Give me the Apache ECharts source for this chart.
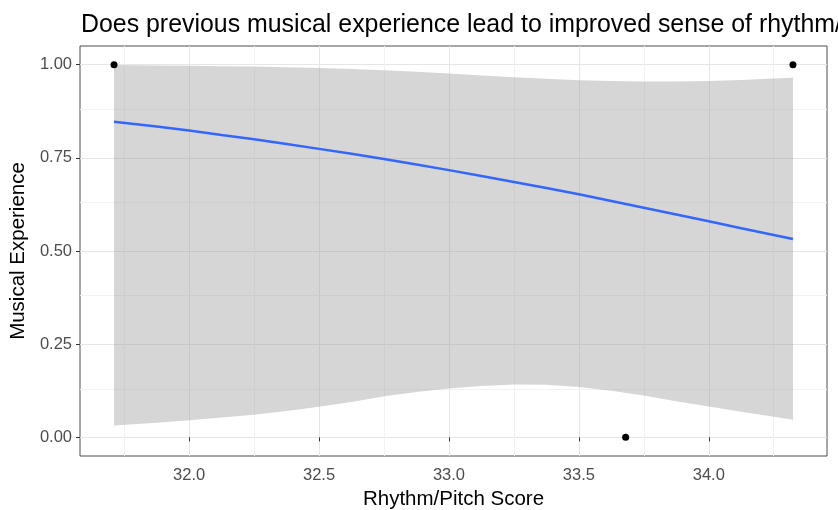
<!DOCTYPE html>
<html>
<head>
<meta charset="utf-8">
<script src="https://cdn.jsdelivr.net/npm/echarts@6/dist/echarts.min.js"></script>
<style>html,body{margin:0;padding:0;background:#fff}#c{width:838px;height:510px}</style>
</head>
<body>
<div id="c"></div>
<script>
// ---- data ----
const titleText = "Does previous musical experience lead to improved sense of rhythm/pitch?";
const xName = "Rhythm/Pitch Score";
const yName = "Musical Experience";
const pointsX = [31.711, 33.68, 34.324];
const pointsY = [1, 0, 1];
const fitX = [31.711, 31.875, 32.0, 32.125, 32.25, 32.375, 32.5, 32.625, 32.75, 32.875, 33.0,
              33.125, 33.25, 33.375, 33.5, 33.625, 33.75, 33.875, 34.0, 34.125, 34.25, 34.324];
const fitY = [0.847, 0.834, 0.823, 0.811, 0.800, 0.787, 0.774, 0.761, 0.747, 0.732, 0.717,
              0.701, 0.685, 0.669, 0.652, 0.634, 0.616, 0.598, 0.580, 0.561, 0.543, 0.532];
const ciLower = [0.032, 0.039, 0.046, 0.053, 0.061, 0.071, 0.082, 0.095, 0.110, 0.122, 0.131,
                 0.138, 0.142, 0.141, 0.135, 0.125, 0.112, 0.097, 0.083, 0.069, 0.055, 0.047];
const ciUpper = [0.999, 0.998, 0.997, 0.996, 0.995, 0.993, 0.991, 0.988, 0.985, 0.981, 0.976,
                 0.971, 0.966, 0.962, 0.958, 0.956, 0.955, 0.955, 0.956, 0.959, 0.963, 0.965];
const xTicks = [32.0, 32.5, 33.0, 33.5, 34.0];
const yTicks = [0, 0.25, 0.5, 0.75, 1.0];
const xMinor = [31.75, 32.25, 32.75, 33.25, 33.75, 34.25];
const yMinor = [0.125, 0.375, 0.625, 0.875];

const FONT = "Liberation Sans";
const chart = echarts.init(document.getElementById('c'), null, {renderer: 'canvas'});

const minorLines = xMinor.map(v => ({xAxis: v})).concat(yMinor.map(v => ({yAxis: v})));

chart.setOption({
  animation: false,
  backgroundColor: '#ffffff',
  title: {
    text: titleText, left: 76, top: 8,
    textStyle: {fontFamily: FONT, fontSize: 24.9, fontWeight: 'normal', color: '#000'}
  },
  grid: {
    left: 80, right: 11, top: 46, bottom: 54,
    outerBoundsMode: 'none', containLabel: false,
    show: true, backgroundColor: '#fff', borderColor: '#4d4d4d', borderWidth: 1
  },
  xAxis: {
    type: 'value', min: 31.580, max: 34.455,
    name: xName, nameLocation: 'middle', nameGap: 31,
    nameTextStyle: {fontFamily: FONT, fontSize: 20.5, color: '#000'},
    axisLine: {show: false},
    axisTick: {show: true, customValues: xTicks, length: 4, lineStyle: {color: '#333333'}},
    axisLabel: {customValues: xTicks, margin: 11, fontFamily: FONT, fontSize: 16.5, color: '#4d4d4d',
      formatter: v => v.toFixed(1)},
    splitLine: {show: true, lineStyle: {color: '#e6e6e6', width: 1}}
  },
  yAxis: {
    type: 'value', min: -0.05, max: 1.05,
    name: yName, nameLocation: 'middle', nameGap: 44,
    nameTextStyle: {fontFamily: FONT, fontSize: 20.5, color: '#000'},
    axisLine: {show: false},
    axisTick: {show: true, customValues: yTicks, length: 4, lineStyle: {color: '#333333'}},
    axisLabel: {customValues: yTicks, margin: 8, fontFamily: FONT, fontSize: 16.5, color: '#4d4d4d',
      formatter: v => v.toFixed(2)},
    splitLine: {show: true, lineStyle: {color: '#e6e6e6', width: 1}}
  },
  series: [
    {
      type: 'scatter', data: [], z: 1, silent: true,
      markLine: {
        z: 1, silent: true, symbol: 'none', label: {show: false}, animation: false,
        lineStyle: {color: '#f2f2f2', width: 1, type: 'solid'},
        emphasis: {disabled: true},
        data: minorLines
      }
    },
    {
      type: 'custom', z: 2, silent: true, clip: true,
      data: fitX.map((x, i) => [x, ciLower[i], ciUpper[i]]),
      renderItem: function (params, api) {
        if (params.dataIndex !== 0) return null;
        const pts = [];
        for (let i = 0; i < fitX.length; i++) pts.push(api.coord([fitX[i], ciUpper[i]]));
        for (let i = fitX.length - 1; i >= 0; i--) pts.push(api.coord([fitX[i], ciLower[i]]));
        return {type: 'polygon', shape: {points: pts},
          style: {fill: 'rgba(153,153,153,0.4)', stroke: null}};
      }
    },
    {
      type: 'line', z: 3, showSymbol: false, silent: true,
      data: fitX.map((x, i) => [x, fitY[i]]),
      lineStyle: {color: '#3366FF', width: 2.5}
    },
    {
      type: 'scatter', z: 4, symbolSize: 7, silent: true,
      itemStyle: {color: '#000', opacity: 1},
      data: pointsX.map((x, i) => [x, pointsY[i]])
    }
  ]
});
</script>
</body>
</html>
